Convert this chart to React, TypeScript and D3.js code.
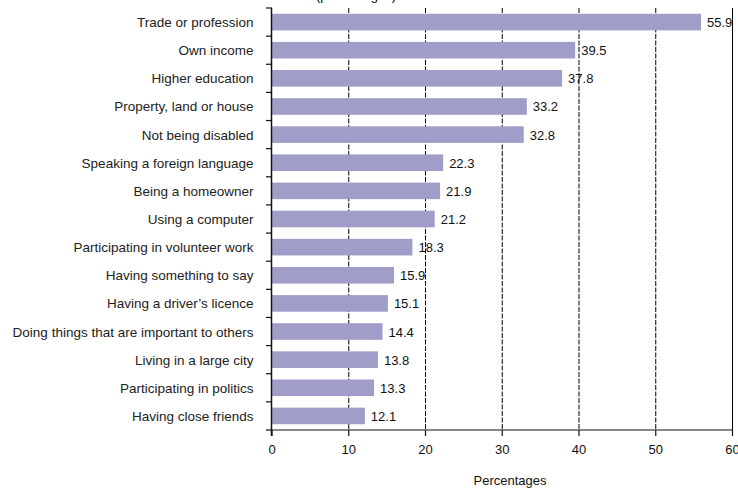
import React from "react";
import * as d3 from "d3";

const categories = [
  "Trade or profession",
  "Own income",
  "Higher education",
  "Property, land or house",
  "Not being disabled",
  "Speaking a foreign language",
  "Being a homeowner ",
  "Using a computer",
  "Participating in volunteer work",
  "Having something to say",
  "Having a driver\u2019s licence",
  "Doing things that are important to others",
  "Living in a large city",
  "Participating in politics",
  "Having close friends",
];
const values = [55.9, 39.5, 37.8, 33.2, 32.8, 22.3, 21.9, 21.2, 18.3, 15.9, 15.1, 14.4, 13.8, 13.3, 12.1];
const xTicks = [0, 10, 20, 30, 40, 50, 60];
const xTitle = "Percentages";
const topTitle = "(percentages)";

const W = 738;
const H = 490;
const FONT = "'Liberation Sans', Arial, Helvetica, sans-serif";

export default function App() {
  const x = d3.scaleLinear().domain([0, 60]).range([272, 732.5]);
  const y = d3.scaleBand<string>().domain(categories).range([8, 430]).paddingInner(0.41).paddingOuter(0.205);
  const step = y.step();
  const y0 = 8;
  const yEnd = 430;
  const bounds = d3.range(categories.length + 1).map((i) => y0 + i * step);

  return (
    <svg width={W} height={H} style={{ position: "absolute", left: 0, top: 0 }} fontFamily={FONT}>
      <text x={356} y={0} fontSize={13} textAnchor="middle" fill="#000">{topTitle}</text>
      {/* gridlines */}
      {xTicks.slice(1).map((t) => (
        <line key={"g" + t} x1={x(t)} x2={x(t)} y1={y0} y2={yEnd} stroke="#000" strokeWidth={1}
          strokeDasharray={t === 60 ? undefined : "5,1.5"} />
      ))}
      {/* bars */}
      {categories.map((c, i) => (
        <g key={c}>
          <rect x={x(0)} y={y(c)!} width={x(values[i]) - x(0)} height={y.bandwidth()} fill="#a09dc8" />
          <text x={x(values[i]) + 6} y={y(c)! + y.bandwidth() / 2 + 5} fontSize={13} fill="#111">
            {values[i].toFixed(1)}
          </text>
          <text x={253.5} y={y(c)! + y.bandwidth() / 2 + 5} fontSize={13.5} textAnchor="end" fill="#222">
            {c}
          </text>
        </g>
      ))}
      {/* y axis */}
      <line x1={x(0) - 0.5} x2={x(0) - 0.5} y1={y0} y2={yEnd + 6} stroke="#111" strokeWidth={1.5} />
      {bounds.map((b, i) => (
        <line key={"yt" + i} x1={x(0) - 6} x2={x(0)} y1={b} y2={b} stroke="#111" strokeWidth={1.2} />
      ))}
      {/* x axis */}
      <line x1={x(0) - 1} x2={x(60)} y1={yEnd} y2={yEnd} stroke="#111" strokeWidth={1.2} />
      {xTicks.map((t) => (
        <g key={"xt" + t}>
          <line x1={x(t)} x2={x(t)} y1={yEnd} y2={yEnd + 6} stroke="#111" strokeWidth={1.2} />
          <text x={x(t)} y={yEnd + 24} fontSize={13} textAnchor="middle" fill="#111">{t}</text>
        </g>
      ))}
      <text x={510} y={485} fontSize={13} textAnchor="middle" fill="#111">{xTitle}</text>
    </svg>
  );
}
